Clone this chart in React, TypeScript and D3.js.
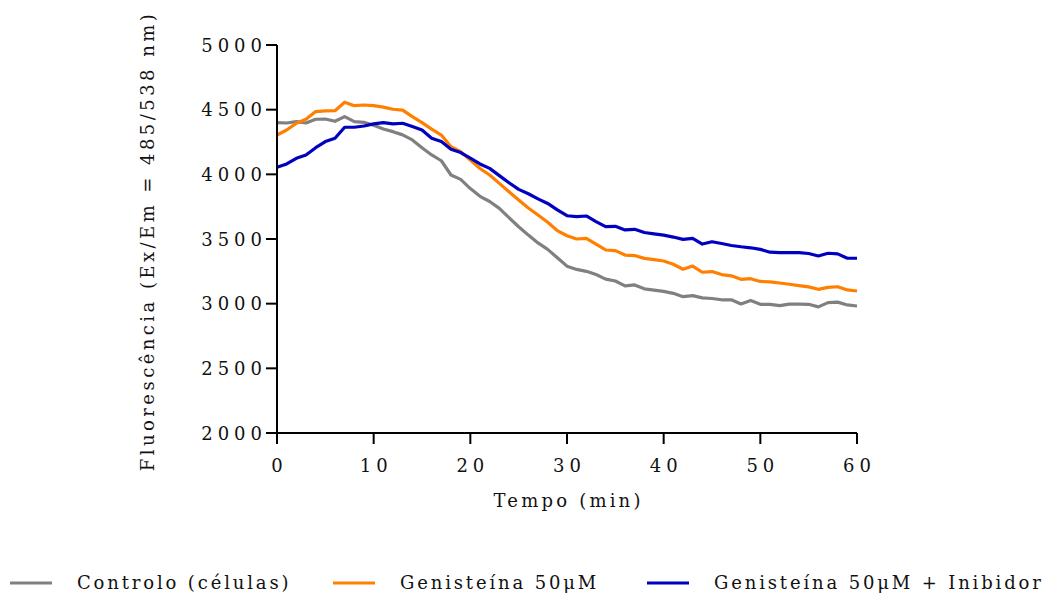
import React from "react";
import * as d3 from "d3";

const minutes = d3.range(0, 61);
const controlo = [4400,4397,4407,4397,4426,4428,4410,4446,4407,4402,4380,4350,4330,4305,4266,4205,4150,4105,3995,3961,3890,3830,3790,3737,3665,3595,3530,3470,3420,3355,3290,3265,3250,3225,3190,3175,3137,3145,3115,3105,3095,3080,3054,3062,3045,3040,3030,3030,2998,3025,2995,2995,2985,2997,2997,2995,2975,3008,3012,2990,2982];
const genisteina = [4304,4343,4395,4426,4485,4490,4492,4557,4531,4536,4531,4520,4503,4497,4446,4400,4350,4304,4214,4175,4110,4045,3995,3930,3865,3802,3740,3686,3630,3565,3525,3500,3505,3460,3415,3410,3376,3372,3350,3340,3330,3305,3266,3291,3243,3248,3225,3215,3188,3193,3172,3168,3160,3150,3140,3130,3111,3126,3131,3106,3098];
const inibidor = [4054,4080,4124,4150,4206,4253,4279,4364,4364,4374,4390,4400,4390,4395,4370,4343,4279,4253,4194,4168,4125,4080,4046,3990,3935,3884,3850,3810,3775,3725,3680,3673,3678,3635,3595,3598,3570,3575,3550,3540,3530,3515,3497,3505,3461,3479,3465,3450,3440,3432,3420,3398,3394,3394,3394,3388,3369,3390,3385,3351,3351];

const seriesNames = ["Controlo (células)", "Genisteína 50μM", "Genisteína 50μM + Inibidor"];
const seriesColors = ["#808080", "#FF8000", "#0000C0"];
const seriesData = [controlo, genisteina, inibidor];
const xTicks = [0, 10, 20, 30, 40, 50, 60];
const yTicks = [2000, 2500, 3000, 3500, 4000, 4500, 5000];

const FONT = "'DejaVu Serif', serif";

export default function App() {
  const W = 1046, H = 597;
  const x = d3.scaleLinear().domain([0, 60]).range([277, 857]);
  const y = d3.scaleLinear().domain([2000, 5000]).range([433, 45]);
  const line = d3.line<number>().x((_, i) => x(minutes[i])).y((d) => y(d));
  const legendX = [10, 333, 647];
  const tickLS = 5;
  return (
    <svg width={W} height={H} style={{ position: "absolute", left: 0, top: 0, background: "#fff" }}>
      {seriesData.map((s, i) => (
        <path key={i} d={line(s) || ""} fill="none" stroke={seriesColors[i]} strokeWidth={3.2} strokeLinejoin="round" />
      ))}
      {/* axes */}
      <line x1={x(0)} x2={x(0)} y1={y(5000)} y2={y(2000) + 11} stroke="#000" strokeWidth={2} />
      <line x1={x(0) - 11} x2={x(60)} y1={y(2000)} y2={y(2000)} stroke="#000" strokeWidth={2} />
      {yTicks.map((t) => (
        <g key={t}>
          <line x1={x(0) - 11} x2={x(0)} y1={y(t)} y2={y(t)} stroke="#000" strokeWidth={2} />
          <text x={x(0) - 15 + tickLS} y={y(t) + 6.5} textAnchor="end" fontFamily={FONT} fontSize={18} letterSpacing={tickLS} fill="#111">{t}</text>
        </g>
      ))}
      {xTicks.map((t) => (
        <g key={t}>
          <line x1={x(t)} x2={x(t)} y1={y(2000)} y2={y(2000) + 11} stroke="#000" strokeWidth={2} />
          <text x={x(t) + tickLS / 2} y={472} textAnchor="middle" fontFamily={FONT} fontSize={18} letterSpacing={tickLS} fill="#111">{t}</text>
        </g>
      ))}
      <text x={567 + 1.6} y={507} textAnchor="middle" fontFamily={FONT} fontSize={18} letterSpacing={3.2} fill="#111">Tempo (min)</text>
      <text transform={`translate(154,241) rotate(-90)`} textAnchor="middle" fontFamily={FONT} fontSize={18} letterSpacing={3.45} fill="#111">Fluorescência (Ex/Em = 485/538 nm)</text>
      {seriesNames.map((n, i) => (
        <g key={n}>
          <line x1={legendX[i]} x2={legendX[i] + 42} y1={583} y2={583} stroke={seriesColors[i]} strokeWidth={3.2} />
          <text x={legendX[i] + 67} y={589} fontFamily={FONT} fontSize={18} letterSpacing={2.85} fill="#111">{n}</text>
        </g>
      ))}
    </svg>
  );
}
